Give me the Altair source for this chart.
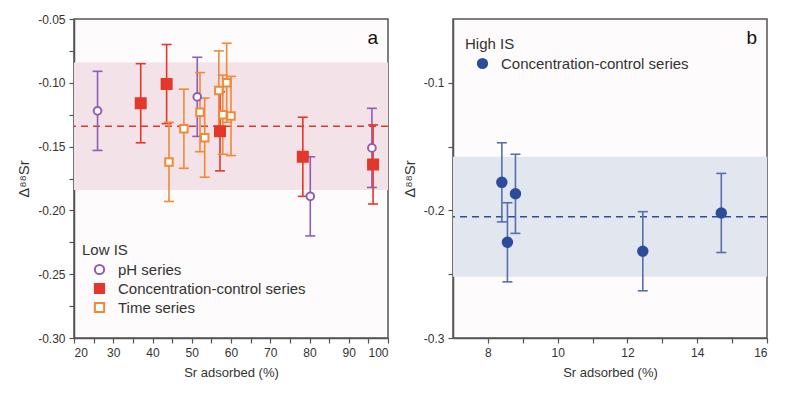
import altair as alt
import pandas as pd

# ---------------- data ----------------
# Panel a: Low IS
ph_x = [26.0, 51.4, 80.2, 95.9]
ph_y = [-0.122, -0.111, -0.189, -0.151]
cc_x = [37.0, 43.6, 57.2, 78.3, 96.2]
cc_y = [-0.116, -0.101, -0.138, -0.158, -0.164]
ts_x = [44.2, 48.0, 52.1, 53.3, 56.9, 57.9, 58.9, 60.0]
ts_y = [-0.162, -0.136, -0.123, -0.143, -0.106, -0.125, -0.100, -0.126]
low_err = 0.031
low_mean = -0.134
low_band = [-0.184, -0.084]

# Panel b: High IS
hi_x = [8.40, 8.56, 8.79, 12.44, 14.69]
hi_y = [-0.178, -0.225, -0.187, -0.232, -0.202]
hi_err = 0.031
hi_mean = -0.205
hi_band = [-0.252, -0.158]

low_series = ["pH series", "Concentration-control series", "Time series"]
hi_series = ["Concentration-control series"]

x_ticks_a = list(range(20, 101, 5))
y_ticks_a = [round(-0.30 + 0.025 * i, 3) for i in range(11)]
x_ticks_b = list(range(8, 17))
y_ticks_b = [-0.30, -0.25, -0.20, -0.15, -0.10]

# ---------------- styling ----------------
PURPLE = "#8e5db7"
RED = "#e2372b"
ORANGE = "#f08a36"
BLUE = "#2c4d9c"
BLUE_ERR = "#5570ad"
PINK_BAND = "#f3e2e7"
BLUE_BAND = "#e1e6ef"
FONT = "Liberation Sans"
W, H = 314, 319

rows = []
for name, xs, ys in zip(low_series, [ph_x, cc_x, ts_x], [ph_y, cc_y, ts_y]):
    for xv, yv in zip(xs, ys):
        rows.append({"series": name, "x": xv, "y": yv,
                     "lo": yv - low_err, "hi": yv + low_err})
low_df = pd.DataFrame(rows)
hi_df = pd.DataFrame({"series": hi_series * len(hi_x), "x": hi_x, "y": hi_y,
                      "lo": [v - hi_err for v in hi_y],
                      "hi": [v + hi_err for v in hi_y]})


def panel(df, series, strokes, err_colors, fills, shapes, sizes, xdom, xticks,
          xlab_expr, ticks_y, ylab_expr, mean, band, band_color, mean_color,
          legend_title, legend_x, legend_y, letter):
    xs = alt.Scale(domain=xdom, nice=False, zero=False)
    ys = alt.Scale(domain=[-0.30, -0.05], nice=False, zero=False)
    xax = alt.Axis(title="Sr adsorbed (%)", values=xticks, labelExpr=xlab_expr,
                   titlePadding=8, labelPadding=4)
    yax = alt.Axis(title="Δ⁸⁸Sr", values=ticks_y, labelExpr=ylab_expr,
                   titlePadding=6, labelPadding=4, titleFontSize=15)
    X = alt.X("x:Q", scale=xs, axis=xax)

    band_df = pd.DataFrame({"lo": [band[0]], "hi": [band[1]], "m": [mean]})
    band_l = alt.Chart(band_df).mark_rect(color=band_color).encode(
        y=alt.Y("lo:Q", scale=ys, axis=yax), y2="hi:Q")
    mean_l = alt.Chart(band_df).mark_rule(color=mean_color, strokeWidth=1.6,
                                          strokeDash=[7, 5]).encode(
        y=alt.Y("m:Q", scale=ys, axis=yax))

    err_layers = []
    for name, c in zip(series, err_colors):
        base = alt.Chart(df).transform_filter(alt.datum.series == name)
        err_layers.append(base.mark_rule(strokeWidth=1.6, color=c).encode(
            x=X, y=alt.Y("lo:Q", scale=ys, axis=yax), y2="hi:Q"))
        for fld in ["lo", "hi"]:
            err_layers.append(base.mark_tick(orient="horizontal", size=10,
                                             thickness=1.6, opacity=1, color=c)
                              .encode(x=X, y=alt.Y(f"{fld}:Q", scale=ys, axis=yax)))

    leg = alt.Legend(title=legend_title, orient="none", legendX=legend_x,
                     legendY=legend_y, padding=0, symbolOffset=10,
                     labelOffset=11, rowPadding=0, titlePadding=4,
                     symbolStrokeWidth=2, symbolSize=85, labelLimit=0)
    pt_layers = []
    for name, sz in zip(series, sizes):
        pt_layers.append(
            alt.Chart(df).transform_filter(alt.datum.series == name)
            .mark_point(strokeWidth=2, opacity=1, fillOpacity=1, size=sz)
            .encode(
                x=X, y=alt.Y("y:Q", scale=ys, axis=yax),
                stroke=alt.Stroke("series:N",
                                  scale=alt.Scale(domain=series, range=strokes),
                                  legend=leg, title=legend_title),
                fill=alt.Fill("series:N",
                              scale=alt.Scale(domain=series, range=fills),
                              legend=leg, title=legend_title),
                shape=alt.Shape("series:N",
                                scale=alt.Scale(domain=series, range=shapes),
                                legend=leg, title=legend_title),
            ))
    txt = alt.Chart(pd.DataFrame({"t": [letter]})).mark_text(
        align="right", baseline="middle", fontSize=19, font=FONT,
        color="#111").encode(text="t:N", x=alt.value(W - 10), y=alt.value(19))
    return alt.layer(band_l, mean_l, *err_layers, *pt_layers,
                     txt).properties(width=W, height=H)


left = panel(low_df, low_series, [PURPLE, RED, ORANGE], [PURPLE, RED, ORANGE],
             ["white", RED, "white"], ["circle", "square", "square"],
             [60, 100, 56], [20, 100], x_ticks_a,
             "datum.value % 10 == 0 ? format(datum.value, 'd') : ''", y_ticks_a,
             "round(datum.value * 40) % 2 == 0 ? '-' + format(abs(datum.value), '.2f') : ''",
             low_mean, low_band, PINK_BAND, RED, "Low IS", 8, 224, "a")

right = panel(hi_df, hi_series, [BLUE], [BLUE_ERR], [BLUE], ["circle"], [90],
              [7, 16], x_ticks_b,
              "datum.value % 2 == 0 ? format(datum.value, 'd') : ''",
              y_ticks_b,
              "round(datum.value * 20) % 2 == 0 ? '-' + format(abs(datum.value), '.1f') : ''",
              hi_mean, hi_band, BLUE_BAND, BLUE, "High IS", 12, 18, "b")

chart = alt.hconcat(left, right, spacing=65, bounds="flush").resolve_scale(
    x="independent", y="independent", stroke="independent", fill="independent",
    shape="independent"
).properties(
    padding={"left": 7, "top": 4, "right": 5, "bottom": 5}
).configure(background="#ffffff", font=FONT).configure_view(
    stroke="#555555", strokeWidth=1.5, fill="#fdfbfb"
).configure_axis(
    labelFont=FONT, labelFontSize=12, labelColor="#333333", titleFont=FONT,
    titleFontSize=13, titleFontWeight="normal", titleColor="#333333",
    tickColor="#555555", tickSize=5, tickWidth=1.2, domainColor="#555555",
    domainWidth=1.5, grid=False
).configure_legend(
    labelFont=FONT, labelFontSize=15, labelColor="#333333", titleFont=FONT,
    titleFontSize=15, titleFontWeight="normal", titleColor="#333333"
)

chart.save("out.html", embed_options={"renderer": "svg", "actions": False})
